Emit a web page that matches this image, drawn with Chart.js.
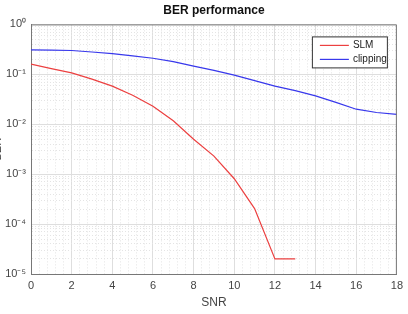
<!DOCTYPE html>
<html>
<head>
<meta charset="utf-8">
<script src="https://cdn.jsdelivr.net/npm/chart.js@4.4.0/dist/chart.umd.min.js"></script>
<style>
html,body{margin:0;padding:0;background:#fff;overflow:hidden;width:408px;height:314px;}
#wrap{position:absolute;left:-9px;top:0;width:417px;height:314px;}
</style>
</head>
<body>
<div id="wrap"><canvas id="c" width="417" height="314"></canvas></div>
<script>
const snr = [0,1,2,3,4,5,6,7,8,9,10,11,12,13,14,15,16,17,18];
const slmBER = [0.16,0.13,0.107,0.08,0.058,0.038,0.023,0.0117,0.005,0.0023,0.00081,0.000204,0.00002,0.00002];
const clippingBER = [0.31,0.305,0.30,0.28,0.26,0.235,0.21,0.18,0.146,0.12,0.096,0.075,0.058,0.047,0.037,0.0275,0.020,0.0172,0.0158];
const xTickLabels = ['0','2','4','6','8','10','12','14','16','18'];
const yTickLabels = ['10\u207B\u2075','10\u207B\u2074','10\u207B\u00B3','10\u207B\u00B2','10\u207B\u00B9','10\u2070'];
const yExponents = [-5,-4,-3,-2,-1,0];

const legendPlugin = {
  id: 'insideLegend',
  afterDraw(chart) {
    const ctx = chart.ctx;
    const a = chart.chartArea;
    const x0 = a.right - 85, y0 = a.top + 12, w = 75, h = 31;
    ctx.save();
    ctx.fillStyle = '#fff';
    ctx.fillRect(x0, y0, w, h);
    ctx.strokeStyle = '#333';
    ctx.lineWidth = 1;
    ctx.strokeRect(x0 + 0.5, y0 + 0.5, w, h);
    ctx.font = '10px "Liberation Sans", Arial, sans-serif';
    ctx.textBaseline = 'middle';
    chart.data.datasets.forEach((ds, i) => {
      const yy = y0 + 9 + i * 14;
      ctx.strokeStyle = ds.borderColor;
      ctx.lineWidth = 1.2;
      ctx.beginPath();
      ctx.moveTo(x0 + 8, yy);
      ctx.lineTo(x0 + 37, yy);
      ctx.stroke();
      ctx.fillStyle = '#222';
      ctx.fillText(ds.label, x0 + 41, yy);
    });
    ctx.restore();
  }
};
const boxPlugin = {
  id: 'box',
  afterDraw(chart) {
    const ctx = chart.ctx, a = chart.chartArea;
    ctx.save();
    ctx.strokeStyle = '#777';
    ctx.lineWidth = 1;
    ctx.beginPath();
    ctx.moveTo(a.left, a.top + 0.5);
    ctx.lineTo(a.right - 0.5, a.top + 0.5);
    ctx.lineTo(a.right - 0.5, a.bottom);
    ctx.stroke();
    ctx.restore();
  }
};

const isMajorX = v => Math.abs(v / 2 - Math.round(v / 2)) < 1e-6;
const isMajorY = v => Math.abs(Math.log10(v) - Math.round(Math.log10(v))) < 1e-6;

new Chart(document.getElementById('c'), {
  type: 'line',
  data: {
    datasets: [
      {label: 'SLM', data: slmBER.map((v, i) => ({x: snr[i], y: v})), borderColor: '#ec4040', borderWidth: 1.2, pointRadius: 0, tension: 0, fill: false},
      {label: 'clipping', data: clippingBER.map((v, i) => ({x: snr[i], y: v})), borderColor: '#3838ec', borderWidth: 1.2, pointRadius: 0, tension: 0, fill: false}
    ]
  },
  options: {
    responsive: false,
    animation: false,
    layout: {padding: {left: 0, right: 10, top: 0, bottom: 0}},
    plugins: {
      legend: {display: false},
      tooltip: {enabled: false},
      title: {display: true, fullSize: false, text: 'BER performance', color: '#111', font: {family: '"Liberation Sans", Arial, sans-serif', size: 12, weight: 'bold'}, padding: {top: 3, bottom: 7}}
    },
    scales: {
      x: {
        type: 'linear', min: 0, max: 18,
        afterBuildTicks(s) {
          const t = [];
          for (let i = 0; i <= 45; i++) t.push({value: Math.round(i * 0.4 * 10) / 10});
          s.ticks = t;
        },
        afterFit(s) { s.height = 40; },
        ticks: {
          autoSkip: false, maxRotation: 0, padding: 5, color: '#444',
          font: {family: '"Liberation Sans", Arial, sans-serif', size: 11},
          callback(v) { return isMajorX(v) ? xTickLabels[Math.round(v / 2)] : ''; }
        },
        grid: {
          drawTicks: false,
          color: c => isMajorX(c.tick.value) ? '#dedede' : '#e4e4e4',
          lineWidth: 1
        },
        border: {color: '#777', dash: c => (c.tick && !isMajorX(c.tick.value)) ? [1, 2] : []},
        title: {display: true, text: 'SNR', color: '#444', font: {family: '"Liberation Sans", Arial, sans-serif', size: 12}, padding: {top: 0, bottom: 4}}
      },
      y: {
        type: 'logarithmic', min: 1e-5, max: 1,
        afterBuildTicks(s) {
          const t = [];
          yExponents.forEach(e => {
            for (let m = 1; m <= 9; m++) {
              if (e === 0 && m > 1) break;
              t.push({value: m * Math.pow(10, e)});
            }
          });
          s.ticks = t;
        },
        afterFit(s) { s.width = 40; },
        ticks: {
          autoSkip: false, padding: 5, color: '#444',
          font: {family: '"Liberation Sans", Arial, sans-serif', size: 11},
          callback(v) {
            if (!isMajorY(v)) return '';
            return yTickLabels[yExponents.indexOf(Math.round(Math.log10(v)))];
          }
        },
        grid: {
          drawTicks: false,
          color: c => isMajorY(c.tick.value) ? '#dedede' : '#e4e4e4',
          lineWidth: 1
        },
        border: {color: '#777', dash: c => (c.tick && !isMajorY(c.tick.value)) ? [1, 2] : []},
        title: {display: true, text: 'BER', color: '#444', font: {family: '"Liberation Sans", Arial, sans-serif', size: 11}, padding: {top: 0, bottom: 0}}
      }
    }
  },
  plugins: [legendPlugin, boxPlugin]
});
</script>
</body>
</html>
